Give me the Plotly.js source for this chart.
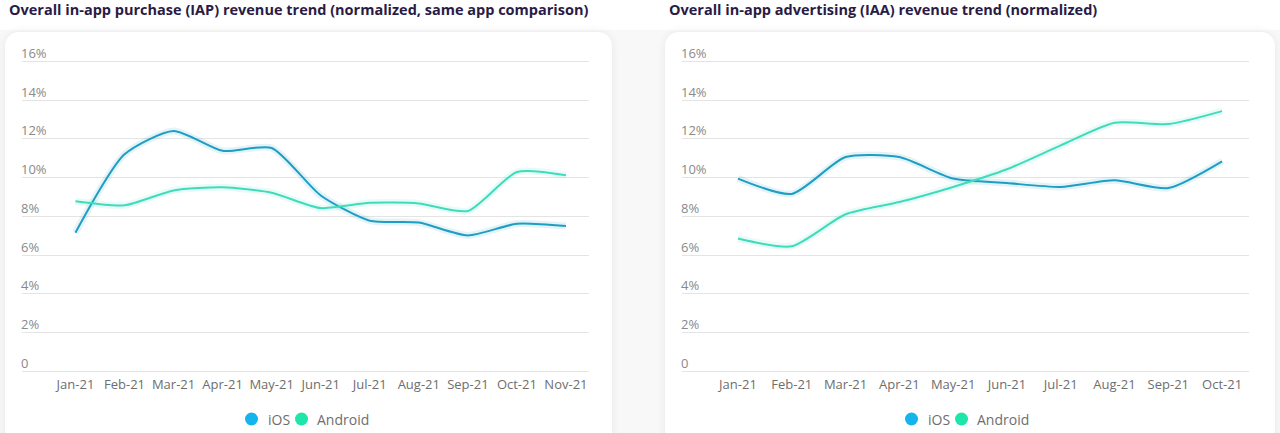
<!DOCTYPE html>
<html>
<head>
<meta charset="utf-8">
<script src="https://cdn.plot.ly/plotly-3.0.1.min.js"></script>
<style>
  html, body { margin: 0; padding: 0; background: #f8f8f8; width: 1280px; height: 433px; overflow: hidden; }
  .card { position: absolute; top: 32px; height: 430px; background: #ffffff; border-radius: 14px;
          box-shadow: 0 0 10px rgba(0,0,0,0.07); }
  #topband { position: absolute; left: 0; top: 0; width: 1280px; height: 30px; background: #ffffff; }
  #chart { position: absolute; left: 0; top: 0; width: 1280px; height: 433px; }
</style>
</head>
<body>
<div id="topband"></div>
<div class="card" style="left:5px; width:607px;"></div>
<div class="card" style="left:665px; width:610px;"></div>
<div id="chart"></div>
<script>
// ---- data ----
const monthsIAP = ['Jan-21','Feb-21','Mar-21','Apr-21','May-21','Jun-21','Jul-21','Aug-21','Sep-21','Oct-21','Nov-21'];
const iapIOS     = [7.16, 11.2, 12.41, 11.38, 11.53, 9.08, 7.78, 7.68, 7.02, 7.62, 7.5];
const iapAndroid = [8.78, 8.57, 9.34, 9.5, 9.22, 8.43, 8.7, 8.67, 8.28, 10.29, 10.12];

const monthsIAA = ['Jan-21','Feb-21','Mar-21','Apr-21','May-21','Jun-21','Jul-21','Aug-21','Sep-21','Oct-21'];
const iaaIOS     = [9.95, 9.16, 11.06, 11.06, 9.95, 9.72, 9.52, 9.86, 9.46, 10.84];
const iaaAndroid = [6.86, 6.46, 8.11, 8.74, 9.52, 10.43, 11.66, 12.83, 12.76, 13.43];

const yTickVals = [0, 2, 4, 6, 8, 10, 12, 14, 16];
const yTickText = ['0', '2%', '4%', '6%', '8%', '10%', '12%', '14%', '16%'];

const titleIAP = 'Overall in-app purchase (IAP) revenue trend (normalized, same app comparison)';
const titleIAA = 'Overall in-app advertising (IAA) revenue trend (normalized)';
const seriesNames = ['iOS', 'Android'];

// ---- styles ----
const lineColors = ['#1d9ec2', '#3fdcbc'];
const dotColors = ['#14b4ec', '#1ee5a9'];
const W = 1280, H = 433;
const FONT = 'Open Sans, Lato, sans-serif';

function lineTraces(x, ys, xa, ya) {
  const out = [];
  ys.forEach((y, i) => {
    out.push({ x: x, y: y, xaxis: xa, yaxis: ya, type: 'scatter', mode: 'lines',
      line: { color: lineColors[i], width: 7, shape: 'spline', smoothing: 0.65 },
      opacity: 0.12, showlegend: false, hoverinfo: 'skip' });
    out.push({ x: x, y: y, xaxis: xa, yaxis: ya, type: 'scatter', mode: 'lines', name: seriesNames[i],
      line: { color: lineColors[i], width: 2, shape: 'spline', smoothing: 0.65 },
      showlegend: false });
  });
  return out;
}

const data = [].concat(
  lineTraces(monthsIAP, [iapIOS, iapAndroid], 'x', 'y'),
  lineTraces(monthsIAA, [iaaIOS, iaaAndroid], 'x2', 'y2')
);

const yDomain = [(H - 375.4) / H, (H - 22.5) / H];
function yAxis(anchor) {
  return {
    anchor: anchor, domain: yDomain, range: [-0.2, 18], tickvals: yTickVals, ticktext: yTickText,
    showgrid: true, gridcolor: '#e4e4e4', gridwidth: 1, zeroline: false, showline: false,
    ticks: '', ticklabelposition: 'inside top', ticklabelstandoff: -4, ticklabelshift: 1,
    ticklabeloverflow: 'allow',
    tickfont: { family: FONT, size: 13, color: '#8a8a8a' }, fixedrange: true
  };
}
function xAxis(anchor, dom, rng) {
  return {
    anchor: anchor, domain: dom, range: rng, type: 'category', showgrid: false, zeroline: false,
    showline: false, ticks: '', ticklabelstandoff: 0,
    tickfont: { family: FONT, size: 13, color: '#6e6e6e' }, fixedrange: true
  };
}

// custom legends (dot + text) centred under each chart
const legendCentres = [305.5, 965.5];
const legendY = 419;
const shapes = [];
const annotations = [
  { text: '<b>' + titleIAP + '</b>', xref: 'paper', yref: 'paper', x: 7 / W, y: 1, yshift: 2,
    xanchor: 'left', yanchor: 'top', showarrow: false, font: { family: FONT, size: 14.5, color: '#2a1b45' } },
  { text: '<b>' + titleIAA + '</b>', xref: 'paper', yref: 'paper', x: 667 / W, y: 1, yshift: 2,
    xanchor: 'left', yanchor: 'top', showarrow: false, font: { family: FONT, size: 14.5, color: '#2a1b45' } }
];
const dotOffsets = [-54, -4], textOffsets = [-40, 9];
legendCentres.forEach(c => {
  seriesNames.forEach((n, i) => {
    shapes.push({ type: 'circle', xref: 'paper', yref: 'paper', xsizemode: 'pixel', ysizemode: 'pixel',
      xanchor: (c + dotOffsets[i]) / W, yanchor: (H - legendY) / H, x0: -6.5, x1: 6.5, y0: -6.5, y1: 6.5,
      fillcolor: dotColors[i], line: { width: 0 } });
    annotations.push({ text: n, xref: 'paper', yref: 'paper', x: (c + textOffsets[i]) / W, y: (H - legendY) / H,
      xanchor: 'left', yanchor: 'middle', showarrow: false, font: { family: FONT, size: 14, color: '#6e6e6e' } });
  });
});

const layout = {
  width: W, height: H, margin: { l: 0, r: 0, t: 0, b: 0 },
  paper_bgcolor: 'rgba(0,0,0,0)', plot_bgcolor: 'rgba(0,0,0,0)',
  xaxis: xAxis('y', [22 / W, 589 / W], [-1.09, 10.47]),
  yaxis: yAxis('x'),
  xaxis2: xAxis('y2', [682 / W, 1249 / W], [-1.04, 9.5]),
  yaxis2: yAxis('x2'),
  shapes: shapes, annotations: annotations, showlegend: false
};

Plotly.newPlot('chart', data, layout, { staticPlot: true, displayModeBar: false });
</script>
</body>
</html>
